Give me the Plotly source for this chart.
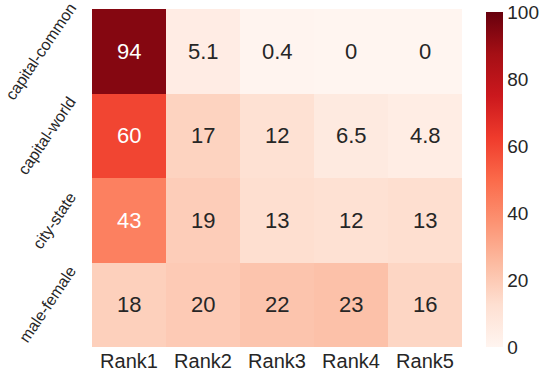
import plotly.graph_objects as go
import plotly.express as px

ranks = ["Rank1", "Rank2", "Rank3", "Rank4", "Rank5"]
relations = ["capital-common", "capital-world", "city-state", "male-female"]
values = [
    [94, 5.1, 0.4, 0, 0],
    [60, 17, 12, 6.5, 4.8],
    [43, 19, 13, 12, 13],
    [18, 20, 22, 23, 16],
]
cbar_ticks = [0, 20, 40, 60, 80, 100]

FONT = "Liberation Sans, Arial, sans-serif"
INK = "#262626"

fig = go.Figure(
    go.Heatmap(
        z=values,
        x=ranks,
        y=relations,
        zmin=0,
        zmax=100.05,
        colorscale=px.colors.sequential.Reds,
        colorbar={
            "x": 1.065,
            "xanchor": "left",
            "y": 0,
            "yanchor": "bottom",
            "len": 0.99,
            "thickness": 17,
            "outlinewidth": 0,
            "tickvals": cbar_ticks,
            "ticks": "",
            "ticklabeloverflow": "allow",
            "tickfont": {"size": 19, "color": INK, "family": FONT},
            "ypad": 0,
            "xpad": 0,
        },
        hoverinfo="skip",
    )
)

# seaborn-style annotations: white text on dark cells
annotations = []
for i, rel in enumerate(relations):
    for j, rank in enumerate(ranks):
        v = values[i][j]
        annotations.append(
            {
                "x": rank,
                "y": rel,
                "text": f"{v:g}",
                "showarrow": False,
                "font": {
                    "size": 22,
                    "family": FONT,
                    "color": "#ffffff" if v >= 40 else INK,
                },
            }
        )

# rotated row labels, centred on each row like matplotlib does
for rel in relations:
    annotations.append(
        {
            "x": 0,
            "xref": "paper",
            "xanchor": "right",
            "xshift": -10,
            "y": rel,
            "yanchor": "middle",
            "text": rel,
            "textangle": -56,
            "showarrow": False,
            "font": {"size": 16, "family": FONT, "color": INK},
        }
    )

fig.update_layout(
    width=546,
    height=374,
    margin={"l": 92, "r": 84, "t": 9, "b": 27, "autoexpand": False},
    paper_bgcolor="#ffffff",
    plot_bgcolor="#ffffff",
    annotations=annotations,
    font={"family": FONT, "color": INK},
)
fig.update_xaxes(
    range=[-0.5, len(ranks) - 0.5],
    showgrid=False,
    zeroline=False,
    ticks="",
    ticklen=0,
    automargin=False,
    tickfont={"size": 20, "color": INK},
)
fig.update_yaxes(
    range=[len(relations) - 0.5, -0.5],
    showgrid=False,
    zeroline=False,
    ticks="",
    showticklabels=False,
    automargin=False,
)

# drop the default page margin so the figure sits at the window origin
fig.write_html(
    "out.html",
    config={"displayModeBar": False},
    post_script="document.body.style.margin = '0';",
)
